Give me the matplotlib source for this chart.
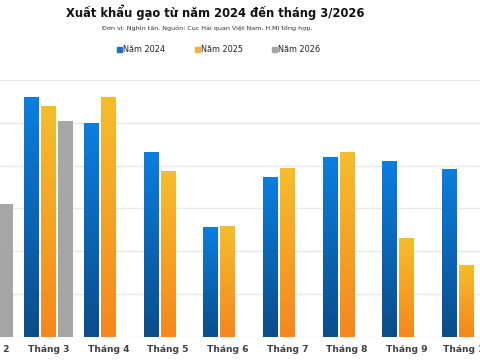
import numpy as np
import matplotlib
matplotlib.use('Agg')
import matplotlib.pyplot as plt
from matplotlib.colors import LinearSegmentedColormap

# Data: thousand tonnes (Thang 2 2024/2025 are cut off)
months = ['Tháng 2', 'Tháng 3', 'Tháng 4', 'Tháng 5', 'Tháng 6',
          'Tháng 7', 'Tháng 8', 'Tháng 9', 'Tháng 10']
y2024 = [np.nan, 1116, 996, 862, 512, 746, 836, 818, 780]
y2025 = [np.nan, 1074, 1116, 772, 516, 786, 862, 462, 334]
y2026 = [618, 1004, np.nan, np.nan, np.nan, np.nan, np.nan, np.nan, np.nan]
series_names = ['Năm 2024', 'Năm 2025', 'Năm 2026']

blue_cm = LinearSegmentedColormap.from_list('b', ['#0b4d8a', '#0a7ee0'])
yellow_cm = LinearSegmentedColormap.from_list('y', ['#f5871e', '#f5bd2c'])
gray_cm = LinearSegmentedColormap.from_list('g', ['#a5a5a5', '#a8a8a8'])

fig = plt.figure(figsize=(4.8, 3.6), dpi=100)
ax = fig.add_axes([-0.0852, 0.0639, 1.119, 0.714])

x = np.arange(len(months))
width = 0.25
step = 0.285
grad = np.linspace(0, 1, 256).reshape(-1, 1)

for k, (vals, cm) in enumerate(zip([y2024, y2025, y2026],
                                   [blue_cm, yellow_cm, gray_cm])):
    for xi, v in zip(x + (k - 1) * step, vals):
        if np.isnan(v):
            continue
        ax.imshow(grad, cmap=cm, origin='lower', aspect='auto',
                  extent=(xi - width / 2, xi + width / 2, 0, v), zorder=3)

ax.set_xlim(-0.5, 8.5)
ax.set_ylim(0, 1200)
ax.set_yticks(np.arange(0, 1201, 200))
ax.yaxis.grid(True, color='#e8e8e8', linewidth=1)
ax.set_axisbelow(True)
for s in ax.spines.values():
    s.set_visible(False)
ax.tick_params(axis='y', length=0, labelleft=False)
ax.set_xticks(x)
ax.set_xticklabels(months, fontsize=6.6, fontweight='bold', color='#404040')
ax.tick_params(axis='x', length=0, pad=6)

fig.text(0.448, 0.967, 'Xuất khẩu gạo từ năm 2024 đến tháng 3/2026',
         ha='center', va='center', fontsize=8.3, fontweight='bold', color='#111111')
fig.text(0.431, 0.921, 'Đơn vị: Nghìn tấn. Nguồn: Cục Hải quan Việt Nam, H.Mĩ tổng hợp.',
         ha='center', va='center', fontsize=4.6, color='#333333')

# legend
leg_colors = ['#1f6fc4', '#f4b03a', '#a5a5a5']
leg_x = [0.244, 0.406, 0.567]
for lx, c, name in zip(leg_x, leg_colors, series_names):
    fig.patches.append(plt.Rectangle((lx, 0.856), 0.010, 0.013, color=c,
                                     transform=fig.transFigure, figure=fig))
    fig.text(lx + 0.013, 0.862, name, ha='left', va='center',
             fontsize=5.9, color='#222222')

fig.savefig('out.png', dpi=100, facecolor='white')
